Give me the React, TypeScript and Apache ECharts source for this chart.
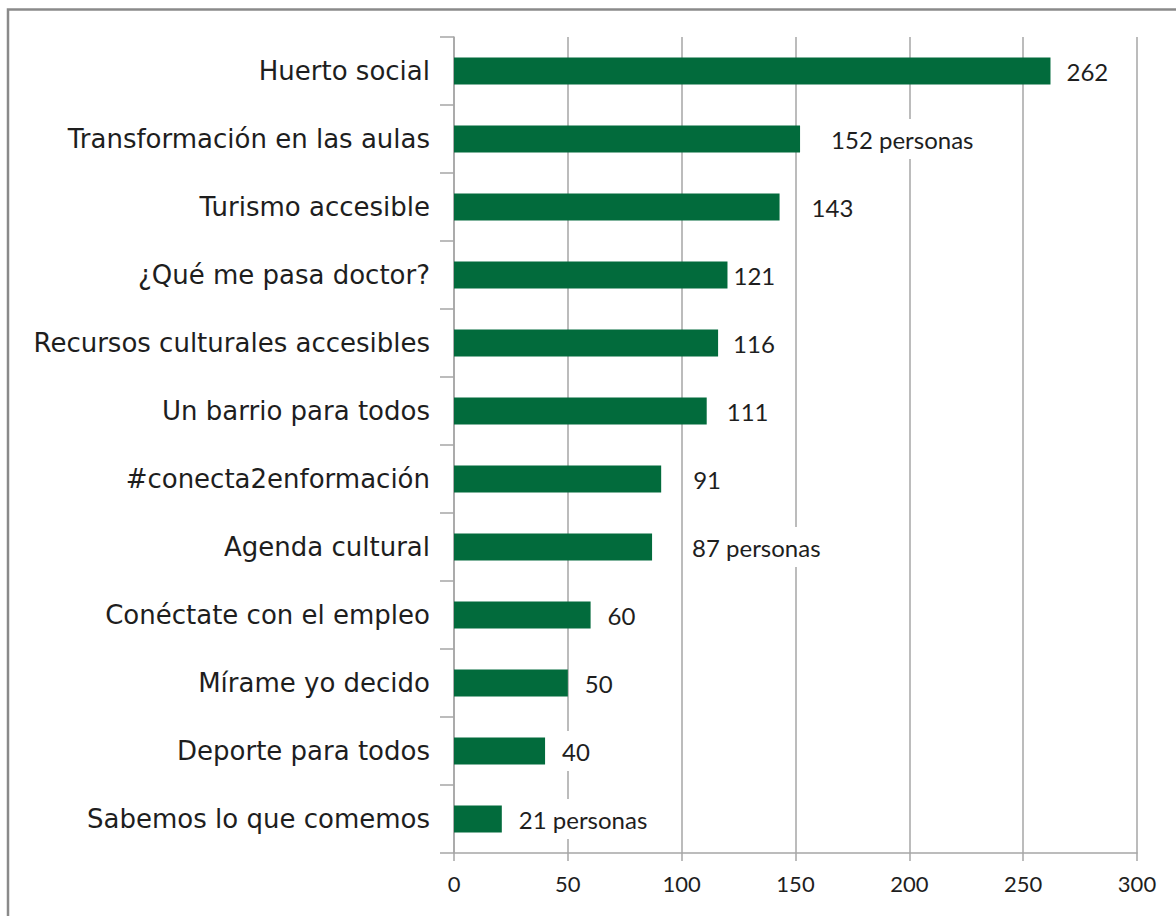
import React, { useEffect, useRef } from "react";
import * as echarts from "echarts";

const categories = [
  "Huerto social",
  "Transformación en las aulas",
  "Turismo accesible",
  "¿Qué me pasa doctor?",
  "Recursos culturales accesibles",
  "Un barrio para todos",
  "#conecta2enformación",
  "Agenda cultural",
  "Conéctate con el empleo",
  "Mírame yo decido",
  "Deporte para todos",
  "Sabemos lo que comemos",
];
const values = [262, 152, 143, 121, 116, 111, 91, 87, 60, 50, 40, 21];
const labelSuffixes = ["", " personas", "", "", "", "", "", " personas", "", "", "", " personas"];
// gap in px between the bar end and its label text (styling, not data)
const labelGaps = [16, 31, 32, 4, 15, 20, 32, 40, 17, 17, 17, 17];
const xTicks = { min: 0, max: 300, interval: 50 };

const GREEN = "#026b3c";
const GRID = "#a6a6a6";
const TEXT = "#1e1e1e";

export default function App() {
  const ref = useRef<HTMLDivElement>(null);
  useEffect(() => {
    if (!ref.current) return;
    const chart = echarts.init(ref.current, undefined, { renderer: "svg" });
    const padX = 6;
    chart.setOption({
      animation: false,
      backgroundColor: "#ffffff",
      graphic: [
        {
          type: "rect",
          shape: { x: 8, y: 9.5, width: 1300, height: 1100 },
          style: { fill: "none", stroke: "#8a8a8a", lineWidth: 2.5 },
          silent: true,
        },
      ],
      grid: { left: 454, right: 39, top: 37, bottom: 63, containLabel: false },
      xAxis: {
        type: "value",
        min: xTicks.min,
        max: xTicks.max,
        interval: xTicks.interval,
        axisLine: { show: true, lineStyle: { color: GRID, width: 1.5 } },
        axisTick: { show: true, length: 8, lineStyle: { color: GRID, width: 1.5 } },
        splitLine: { show: true, lineStyle: { color: GRID, width: 1.5 } },
        axisLabel: { color: TEXT, fontFamily: "Lato", fontSize: 22, margin: 19 },
      },
      yAxis: {
        type: "category",
        data: categories,
        inverse: true,
        axisLine: { show: true, lineStyle: { color: GRID, width: 1.5 } },
        axisTick: { show: true, length: 14, lineStyle: { color: GRID, width: 1.5 } },
        axisLabel: {
          color: TEXT,
          fontFamily: "DejaVu Sans",
          fontSize: 26,
          margin: 24,
          padding: [5, 0, 0, 0],
        },
      },
      series: [
        {
          type: "bar",
          barWidth: 27,
          itemStyle: { color: GREEN },
          data: values.map((v, i) => ({
            value: v,
            label: {
              show: true,
              position: "right",
              distance: 0,
              offset: [labelGaps[i] - padX, 0],
              formatter: () => `${v}${labelSuffixes[i]}`,
              backgroundColor: "#ffffff",
              padding: [8, padX, 8, padX],
              color: TEXT,
              fontFamily: "Lato",
              fontSize: 24,
            },
          })),
        },
      ],
    });
    return () => chart.dispose();
  }, []);
  return (
    <div
      ref={ref}
      style={{ position: "absolute", left: 0, top: 0, width: 1176, height: 916 }}
    />
  );
}
